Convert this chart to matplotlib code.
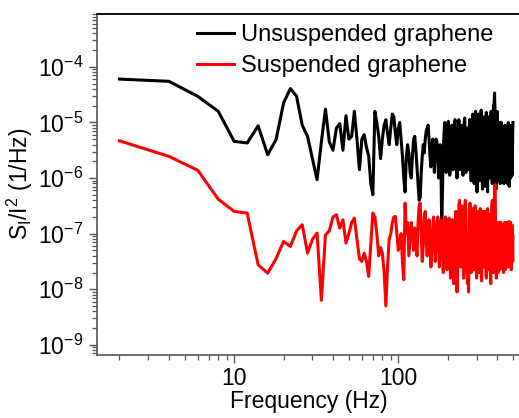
import numpy as np
import matplotlib
matplotlib.use("Agg")
import matplotlib.pyplot as plt
from matplotlib.ticker import LogLocator, NullFormatter, FixedLocator, FixedFormatter

plt.rcParams['font.family'] = ['Liberation Sans', 'DejaVu Sans']
plt.rcParams['mathtext.fontset'] = 'custom'
plt.rcParams['mathtext.rm'] = 'Liberation Sans'
plt.rcParams['mathtext.it'] = 'Liberation Sans'
plt.rcParams['mathtext.default'] = 'regular'

# FFT bins, 2 Hz apart
freq = np.arange(2, 502, 2)

# log10 of S_I/I^2
unsusp_log = [
    -4.22, -4.26, -4.53, -4.80, -5.34, -5.37, -5.06, -5.58, -5.31, -4.65,
    -4.39, -4.53, -5.05, -5.25, -5.65, -6.03, -5.35, -4.76, -5.35, -5.50,
    -5.10, -5.02, -5.50, -4.88, -5.30, -5.25, -4.80, -5.30, -5.85, -5.30,
    -5.22, -5.45, -5.60, -6.10, -6.30, -4.80, -5.00, -5.25, -5.65, -5.30,
    -5.05, -4.95, -5.20, -5.40, -5.10, -4.85, -4.90, -5.20, -5.40, -5.10,
    -5.00, -5.30, -5.60, -6.00, -6.25, -5.60, -5.40, -5.55, -5.90, -6.00,
    -5.60, -5.30, -5.25, -5.50, -5.80, -6.10, -6.40, -6.35, -5.90, -5.60,
    -5.40, -5.55, -5.30, -5.15, -5.10, -5.05, -5.30, -5.60, -5.80, -5.50,
    -5.30, -5.60, -5.90, -5.50, -5.30, -5.35, -5.60, -6.00, -5.70, -5.40,
    -5.80, -6.90, -6.20, -5.50, -5.20, -5.00, -5.40, -5.90, -5.60, -5.10,
    -4.98, -5.30, -5.95, -5.70, -5.20, -5.05, -5.50, -5.85, -5.40, -5.00,
    -4.95, -5.35, -5.80, -6.00, -5.60, -5.15, -4.95, -5.30, -5.85, -5.50,
    -5.05, -5.25, -5.75, -5.95, -5.45, -5.00, -4.92, -5.40, -5.90, -5.60,
    -5.10, -5.30, -5.85, -5.70, -5.20, -4.95, -5.15, -5.70, -6.05, -5.50,
    -5.00, -4.85, -5.30, -5.95, -6.10, -5.40, -4.90, -4.80, -5.35, -5.90,
    -6.25, -5.60, -5.00, -4.85, -5.20, -5.80, -6.05, -5.50, -4.95, -4.78,
    -5.25, -5.90, -6.20, -5.70, -5.10, -4.90, -5.35, -5.95, -6.15, -5.60,
    -5.00, -4.82, -5.20, -5.85, -6.25, -5.70, -5.05, -4.90, -5.40, -6.00,
    -5.90, -5.30, -4.95, -4.80, -5.25, -5.90, -6.10, -5.50, -4.90, -4.70,
    -4.85, -4.60, -4.47, -4.75, -5.30, -5.95, -6.20, -5.60, -5.00, -4.80,
    -5.20, -5.85, -6.05, -5.55, -5.05, -5.00, -5.45, -5.95, -6.10, -5.60,
    -5.10, -5.00, -5.35, -5.90, -6.05, -5.55, -5.10, -5.20, -5.70, -6.10,
    -5.80, -5.20, -5.05, -5.40, -5.95, -6.00, -5.50, -5.10, -5.15, -5.65,
    -6.10, -5.75, -5.20, -5.00, -5.35, -5.90, -6.15, -5.60, -5.15, -5.05,
    -5.45, -6.00, -5.85, -5.30, -5.10, -5.40, -5.95, -5.70, -5.20, -5.00,
]

susp_log = [
    -5.33, -5.61, -5.86, -6.38, -6.60, -6.63, -7.56, -7.71, -7.45, -7.14,
    -7.23, -6.95, -6.84, -7.35, -7.10, -6.99, -8.20, -7.02, -6.95, -6.70,
    -6.66, -6.90, -6.75, -7.17, -7.00, -6.80, -6.72, -7.10, -7.45, -7.50,
    -7.35, -7.50, -7.77, -7.20, -6.63, -6.70, -7.00, -7.40, -7.25, -7.35,
    -7.70, -8.30, -7.60, -7.10, -7.00, -6.80, -6.70, -6.69, -7.00, -7.30,
    -7.20, -7.00, -7.50, -7.83, -6.45, -7.00, -6.80, -7.40, -7.10, -6.80,
    -7.00, -7.30, -6.90, -7.20, -7.40, -6.80, -6.50, -6.45, -7.00, -7.50,
    -7.20, -6.70, -6.60, -7.10, -7.40, -7.00, -6.75, -7.20, -7.60, -7.30,
    -6.90, -6.70, -7.10, -7.50, -7.20, -6.80, -6.70, -7.25, -7.60, -7.10,
    -6.75, -6.90, -7.40, -7.70, -7.20, -6.80, -6.70, -7.10, -7.65, -7.40,
    -6.90, -6.72, -7.20, -7.80, -7.50, -7.00, -6.75, -7.30, -7.90, -7.40,
    -6.80, -6.60, -7.10, -8.05, -7.50, -6.90, -6.50, -6.40, -7.00, -7.60,
    -7.30, -6.70, -6.50, -7.10, -7.80, -7.40, -6.80, -6.40, -6.60, -7.20,
    -7.70, -7.90, -7.30, -8.05, -7.20, -6.60, -6.45, -7.00, -7.70, -7.40,
    -6.80, -6.55, -7.10, -7.65, -7.30, -6.70, -6.50, -6.90, -7.50, -7.80,
    -7.20, -6.65, -6.60, -7.15, -7.70, -7.40, -6.80, -6.55, -7.00, -7.60,
    -7.85, -7.20, -6.70, -6.60, -7.10, -7.60, -7.30, -6.75, -6.60, -7.05,
    -7.55, -7.80, -7.20, -6.70, -6.55, -7.00, -7.65, -7.40, -6.90, -6.65,
    -7.10, -7.70, -7.90, -7.30, -6.80, -6.50, -6.40, -6.90, -7.50, -7.70,
    -7.10, -6.50, -6.30, -6.12, -6.40, -7.00, -7.60, -7.80, -7.20, -6.80,
    -6.90, -7.40, -7.70, -7.20, -6.85, -6.80, -7.30, -7.65, -7.40, -6.90,
    -6.80, -7.20, -7.60, -7.50, -7.00, -6.85, -6.95, -7.45, -7.70, -7.30,
    -6.85, -6.80, -7.25, -7.65, -7.50, -6.95, -6.80, -7.10, -7.60, -7.45,
    -6.90, -6.80, -7.20, -7.60, -7.40, -6.85, -6.78, -7.20, -7.55, -7.30,
    -6.85, -6.80, -7.30, -7.65, -7.40, -6.90, -6.85, -7.25, -7.50, -7.05,
]

labels = ['Unsuspended graphene', 'Suspended graphene']
colors = ['black', '#ff0000']
xticks = [10, 100]
xticklabels = ['10', '100']

fig = plt.figure(figsize=(5.19, 4.18), dpi=100)
ax = fig.add_axes([0.187, 0.151, 0.817, 0.816])

ax.plot(freq, 10.0 ** np.array(unsusp_log), color=colors[0], lw=2.2, label=labels[0])
ax.plot(freq, 10.0 ** np.array(susp_log), color=colors[1], lw=2.2, label=labels[1])

ax.set_xscale('log')
ax.set_yscale('log')
ax.set_xlim(1.461, 560)
ax.set_ylim(6.6e-10, 9.0e-4)

ax.xaxis.set_major_locator(FixedLocator(xticks))
ax.xaxis.set_major_formatter(FixedFormatter(xticklabels))
ax.xaxis.set_minor_locator(LogLocator(base=10, subs=np.arange(2, 10), numticks=20))
ax.xaxis.set_minor_formatter(NullFormatter())
ax.yaxis.set_major_locator(LogLocator(base=10, numticks=20))
ax.yaxis.set_minor_locator(LogLocator(base=10, subs=np.arange(2, 10), numticks=20))
ax.yaxis.set_minor_formatter(NullFormatter())

ax.spines['right'].set_visible(False)
for s in ['left', 'bottom']:
    ax.spines[s].set_color('#555555')
    ax.spines[s].set_linewidth(1.2)
ax.spines['top'].set_color('#111111')
ax.spines['top'].set_linewidth(1.4)

ax.tick_params(which='major', direction='out', length=6, width=1.0, color='#555555',
               labelsize=16.5, pad=4)
ax.tick_params(axis='x', which='major', pad=3)
ax.tick_params(which='minor', direction='out', length=3.5, width=0.9, color='#555555')
ax.tick_params(top=False, right=False)

ax.set_xlabel('Frequency (Hz)', fontsize=16.5, labelpad=0)
ax.set_ylabel(r'S$_\mathregular{I}$/I$^\mathregular{2}$ (1/Hz)', fontsize=16.5, labelpad=2)

ax.legend(loc='upper left', bbox_to_anchor=(0.236, 0.97), frameon=False, fontsize=17,
          handlelength=1.55, handletextpad=0.3, labelspacing=0.4, borderaxespad=0,
          borderpad=0)

fig.savefig('out.png', dpi=100)
